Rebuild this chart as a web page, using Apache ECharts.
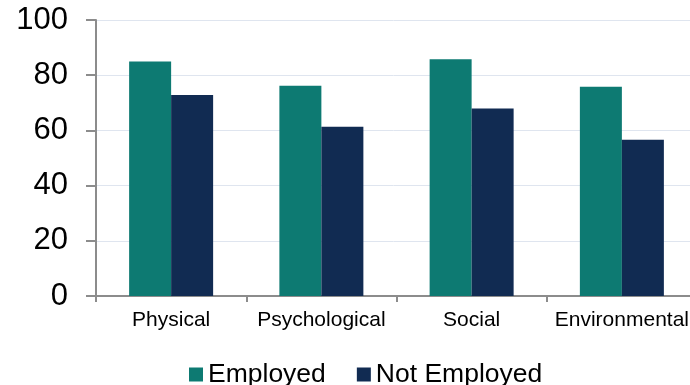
<!DOCTYPE html>
<html>
<head>
<meta charset="utf-8">
<script src="https://cdn.jsdelivr.net/npm/echarts@6/dist/echarts.min.js"></script>
<style>html,body{margin:0;padding:0;background:#fff;}#c{width:690px;height:385px;}</style>
</head>
<body>
<div id="c"></div>
<script>
const categories = ['Physical', 'Psychological', 'Social', 'Environmental'];
const employed = [85, 76.2, 85.8, 75.8];
const notEmployed = [72.8, 61.3, 67.9, 56.6];
const yTicks = [0, 20, 40, 60, 80, 100];

const chart = echarts.init(document.getElementById('c'), null, {renderer: 'canvas'});
const font = '"Liberation Sans", Arial, sans-serif';
chart.setOption({
  animation: false,
  textStyle: {fontFamily: font},
  grid: {left: 96, top: 20, width: 601, height: 276, outerBoundsMode: 'none', containLabel: false},
  legend: {
    left: 184, top: 356,
    itemWidth: 14, itemHeight: 14, itemGap: 31,
    icon: 'rect',
    textStyle: {fontSize: 26.5, color: '#000', fontFamily: font},
    data: ['Employed', 'Not Employed']
  },
  xAxis: {
    type: 'category',
    data: categories,
    axisLine: {lineStyle: {color: '#8c8c8c', width: 2}},
    axisTick: {show: true, interval: 0, length: 6, lineStyle: {color: '#8c8c8c', width: 2}},
    axisLabel: {interval: 0, fontSize: 21, color: '#000', margin: 14, fontFamily: font}
  },
  yAxis: {
    type: 'value',
    min: yTicks[0], max: yTicks[yTicks.length - 1], interval: 20,
    axisLine: {show: true, lineStyle: {color: '#8c8c8c', width: 2}},
    axisTick: {show: true, length: 10, lineStyle: {color: '#8c8c8c', width: 2}},
    axisLabel: {fontSize: 31, color: '#000', margin: 28, fontFamily: font},
    splitLine: {lineStyle: {color: '#dfe5ef', width: 1}}
  },
  series: [
    {name: 'Employed', type: 'bar', data: employed, barWidth: 42, barGap: '0%',
     itemStyle: {color: '#0d7a72'}},
    {name: 'Not Employed', type: 'bar', data: notEmployed, barWidth: 42, barGap: '0%',
     itemStyle: {color: '#112b52'}}
  ]
});
</script>
</body>
</html>
